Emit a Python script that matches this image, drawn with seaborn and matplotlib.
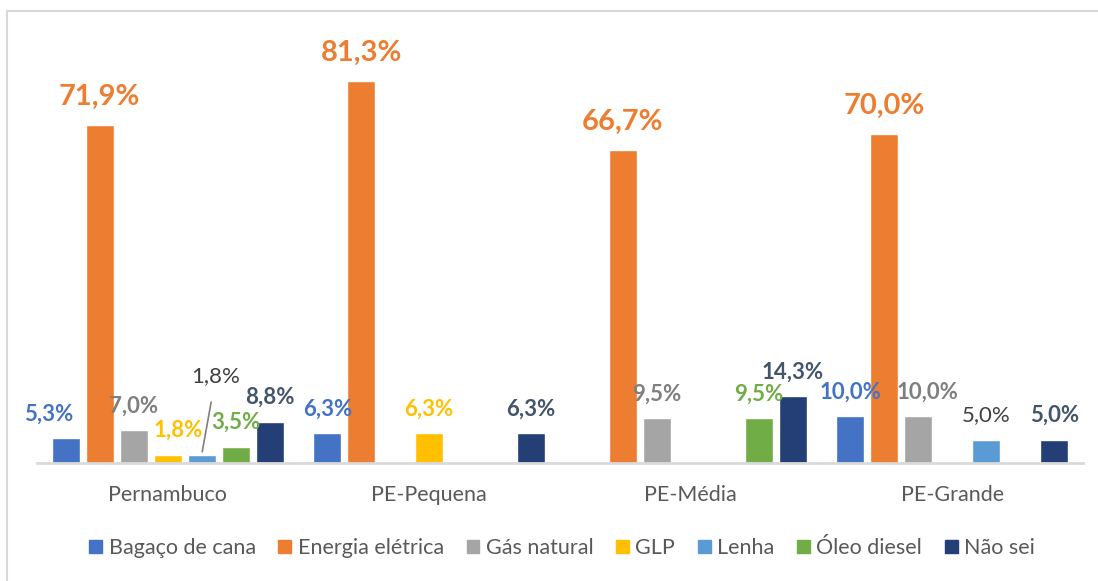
import numpy as np
import pandas as pd
import matplotlib
matplotlib.use("Agg")
import matplotlib.pyplot as plt
import seaborn as sns
from matplotlib.patches import Rectangle

# --- data -----------------------------------------------------------------
regioes = ["Pernambuco", "PE-Pequena", "PE-Média", "PE-Grande"]
fontes = ["Bagaço de cana", "Energia elétrica", "Gás natural", "GLP",
          "Lenha", "Óleo diesel", "Não sei"]

bagaco = [5.3, 6.3, 0.0, 10.0]
energia = [71.9, 81.3, 66.7, 70.0]
gas_natural = [7.0, 0.0, 9.5, 10.0]
glp = [1.8, 6.3, 0.0, 0.0]
lenha = [1.8, 0.0, 0.0, 5.0]
oleo_diesel = [3.5, 0.0, 9.5, 0.0]
nao_sei = [8.8, 6.3, 14.3, 5.0]

series = [bagaco, energia, gas_natural, glp, lenha, oleo_diesel, nao_sei]

# --- styling --------------------------------------------------------------
BAR_COLORS = ["#4472C4", "#ED7D31", "#A5A5A5", "#FFC000",
              "#5B9BD5", "#70AD47", "#233F76"]
LABEL_COLORS = ["#4472C4", "#ED7D31", "#7F7F7F", "#FFC000",
                "#404040", "#70AD47", "#44546A"]
LABEL_BOLD = [True, True, True, True, False, True, True]
TEXT_GRAY = "#595959"

sns.set_style("white")
plt.rcParams["font.family"] = ["Lato", "DejaVu Sans"]

rows = []
for fonte, vals in zip(fontes, series):
    for reg, v in zip(regioes, vals):
        rows.append({"regiao": reg, "fonte": fonte, "valor": v})
df = pd.DataFrame(rows)

fig = plt.figure(figsize=(10.98, 5.81), dpi=100)
ax = fig.add_axes([0.0337, 0.2031, 0.9526, 0.728])

sns.barplot(data=df, x="regiao", y="valor", hue="fonte", order=regioes,
            hue_order=fontes, palette=BAR_COLORS, saturation=1,
            width=0.91, gap=0.18, errorbar=None, ax=ax)

ax.set_xlim(-0.5, 3.5)
ax.set_ylim(0, 90)
ax.set_xlabel("")
ax.set_ylabel("")
ax.set_yticks([])
for side in ["top", "right", "left"]:
    ax.spines[side].set_visible(False)
ax.spines["bottom"].set_color("#D9D9D9")
ax.spines["bottom"].set_linewidth(2)
ax.tick_params(axis="x", length=0, pad=16, labelsize=15.5, labelcolor=TEXT_GRAY)

# manual nudges (pixels) for a few crowded labels
nudges = {(0, 0): -17, (3, 0): 10, (2, 3): 9}

for si, cont in enumerate(ax.containers):
    for ci, bar in enumerate(cont):
        v = series[si][ci]
        if v == 0:
            continue
        txt = f"{v:.1f}%".replace(".", ",")
        cx = bar.get_x() + bar.get_width() / 2
        top = bar.get_height()
        big = si == 1
        if si == 4 and ci == 0:
            # callout label with leader line
            ax.annotate(txt, xy=(cx, top), xytext=(14, 78),
                        textcoords="offset pixels", ha="center", va="center",
                        fontsize=16, color=LABEL_COLORS[si],
                        arrowprops=dict(arrowstyle="-", color="#7F7F7F",
                                        lw=1.2, shrinkA=9, shrinkB=2))
            continue
        dx = nudges.get((si, ci), 0)
        dy = 28 if big else 24
        ax.annotate(txt, xy=(cx, top), xytext=(dx, dy),
                    textcoords="offset pixels", ha="center", va="center",
                    fontsize=21 if big else 16,
                    fontweight="bold" if LABEL_BOLD[si] else "normal",
                    color=LABEL_COLORS[si])

ax.get_legend().remove()
handles = [Rectangle((0, 0), 1, 1, color=c) for c in BAR_COLORS]
fig.legend(handles, fontes, loc="center", bbox_to_anchor=(0.512, 1 - 548 / 581),
           ncol=7, frameon=False, fontsize=15.5, labelcolor=TEXT_GRAY,
           handlelength=0.6, handleheight=0.6, handletextpad=0.3,
           columnspacing=1.05)

# outer chart frame
fig.patches.append(Rectangle((7 / 1098, -0.05), 1.1, 1 - 11 / 581 + 0.05,
                             transform=fig.transFigure, fill=False,
                             edgecolor="#D9D9D9", lw=1.5))

fig.savefig("out.png", dpi=100)
